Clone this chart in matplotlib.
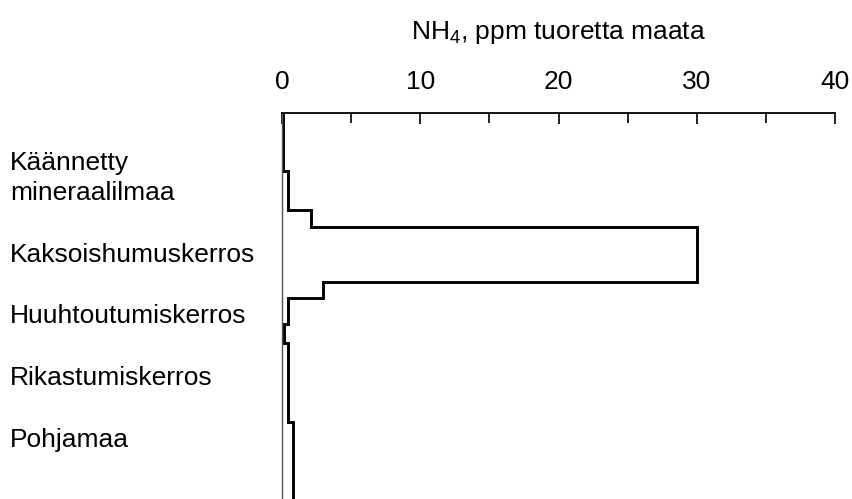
import numpy as np
import matplotlib
matplotlib.use("Agg")
import matplotlib.pyplot as plt
from matplotlib.transforms import blended_transform_factory

plt.rcParams['font.family'] = ['Liberation Sans', 'DejaVu Sans']
plt.rcParams['mathtext.fontset'] = 'custom'
plt.rcParams['mathtext.rm'] = 'Liberation Sans'
plt.rcParams['mathtext.it'] = 'Liberation Sans:italic'

# depth boundaries (relative units, 0 = surface) and NH4 values per layer
depth_edges = [0, 15.0, 25.1, 29.4, 43.7, 47.8, 54.7, 59.6, 80.1, 100]
nh4_values = [0.08, 0.45, 2.1, 30.0, 3.0, 0.45, 0.15, 0.45, 0.77]

layer_names = ["Käännetty\nmineraalilmaa", "Kaksoishumuskerros",
               "Huuhtoutumiskerros", "Rikastumiskerros", "Pohjamaa"]
layer_pos = [16.8, 36.8, 52.6, 68.7, 84.7]

x_ticks = [0, 10, 20, 30, 40]
x_minor = [5, 15, 25, 35]

fig = plt.figure(figsize=(8.53, 4.99), dpi=100)
ax = fig.add_axes([0.3306, 0.0, 0.6483, 0.7735])

ax.stairs(nh4_values, depth_edges, orientation='horizontal', baseline=None,
          color='black', linewidth=2.1)

ax.set_xlim(0, 40)
ax.set_ylim(100, 0)

ax.xaxis.tick_top()
ax.set_xticks(x_ticks)
ax.set_xticks(x_minor, minor=True)
ax.tick_params(axis='x', which='major', direction='in', length=8, width=1.2,
               labelsize=19, pad=14)
ax.tick_params(axis='x', which='minor', direction='in', length=7, width=1.2)
ax.set_yticks([])

for s in ['right', 'bottom']:
    ax.spines[s].set_visible(False)
ax.spines['top'].set_linewidth(1.3)
ax.spines['left'].set_linewidth(1.0)
ax.spines['left'].set_color('#555555')

trans = blended_transform_factory(fig.transFigure, ax.transData)
for name, y in zip(layer_names, layer_pos):
    ax.text(0.012, y, name, transform=trans, ha='left', va='center',
            fontsize=19, linespacing=1.3)

fig.text(0.655, 0.935, r'NH$_4$, ppm tuoretta maata', ha='center', va='center',
         fontsize=19)

fig.savefig("out.png", dpi=100)
